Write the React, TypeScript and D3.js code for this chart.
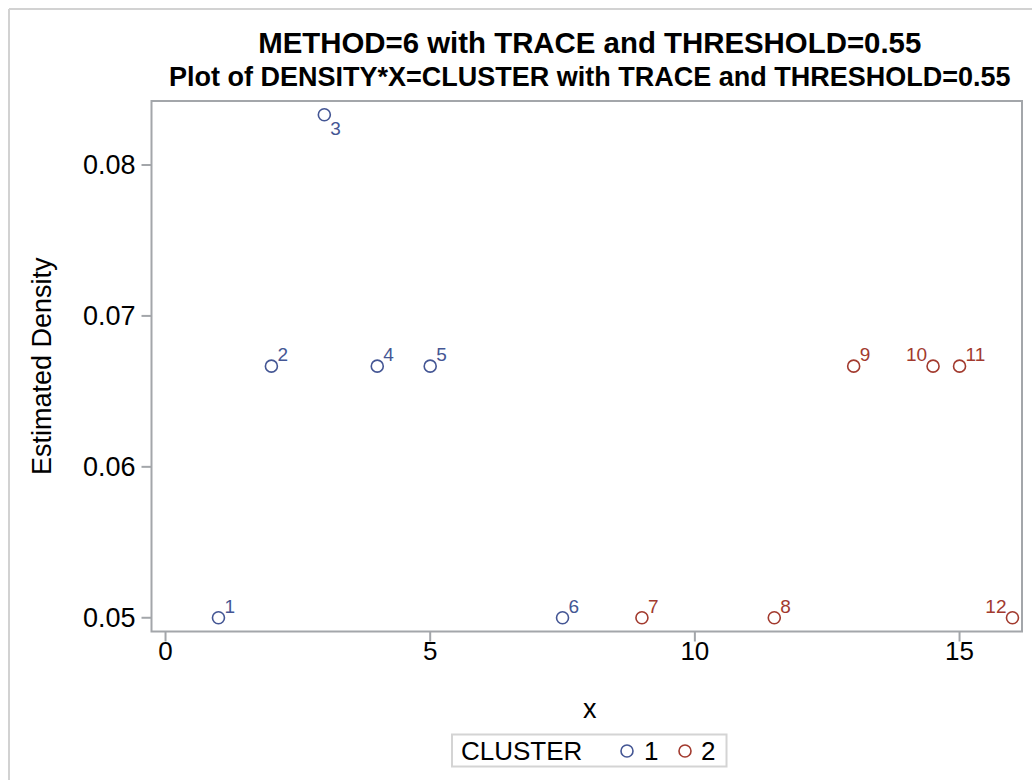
import * as d3 from "d3";

const pointIds = ["1", "2", "3", "4", "5", "6", "7", "8", "9", "10", "11", "12"];
const xValues = [1, 2, 3, 4, 5, 7.5, 9, 11.5, 13, 14.5, 15, 16];
const densityValues = [0.05, 0.06667, 0.08333, 0.06667, 0.06667, 0.05, 0.05, 0.05, 0.06667, 0.06667, 0.06667, 0.05];
const clusterOf = [1, 1, 1, 1, 1, 1, 2, 2, 2, 2, 2, 2];
// where the id label sits relative to its marker
const labelSide = ["ne", "ne", "se", "ne", "ne", "ne", "ne", "ne", "ne", "nw", "ne", "nw"];

const xTicks = [0, 5, 10, 15];
const yTicks = [0.05, 0.06, 0.07, 0.08];
const clusters = [1, 2];

const TITLE = "METHOD=6 with TRACE and THRESHOLD=0.55";
const SUBTITLE = "Plot of DENSITY*X=CLUSTER with TRACE and THRESHOLD=0.55";

const COLORS: Record<number, string> = { 1: "#445694", 2: "#A23A2E" };
const FONT = "'Liberation Sans', Arial, sans-serif";
const AXIS = "#a3a6aa";

export default function App() {
  const W = 1032;
  const H = 780;
  const m = { left: 151.5, right: 1022, top: 101, bottom: 631.5 };

  const x = d3.scaleLinear().domain([-0.265, 16.18]).range([m.left, m.right]);
  const y = d3.scaleLinear().domain([0.04909, 0.08424]).range([m.bottom, m.top]);
  const fmtY = d3.format(".2f");

  const cx = (m.left + m.right) / 2;

  return (
    <svg
      width={W}
      height={H}
      style={{ position: "absolute", left: 0, top: 0, fontFamily: FONT }}
    >
      <rect x={0} y={0} width={W} height={H} fill="white" />
      {/* outer graph border (right/bottom fall outside the page) */}
      <line x1={9} y1={9} x2={W} y2={9} stroke="#d2d2d2" strokeWidth={2} />
      <line x1={9} y1={9} x2={9} y2={H} stroke="#d2d2d2" strokeWidth={2} />

      <text x={cx + 3} y={53} textAnchor="middle" fontSize={29.4} fontWeight="bold" fill="#000">
        {TITLE}
      </text>
      <text x={cx + 3} y={86} textAnchor="middle" fontSize={27} fontWeight="bold" fill="#000">
        {SUBTITLE}
      </text>

      {/* frame */}
      <rect
        x={m.left}
        y={m.top}
        width={m.right - m.left}
        height={m.bottom - m.top}
        fill="none"
        stroke={AXIS}
        strokeWidth={2}
      />

      {/* x axis */}
      {xTicks.map((t) => (
        <g key={t}>
          <line x1={x(t)} x2={x(t)} y1={m.bottom} y2={m.bottom + 10} stroke={AXIS} strokeWidth={2} />
          <text x={x(t)} y={m.bottom + 28} textAnchor="middle" fontSize={26} fill="#000">
            {t}
          </text>
        </g>
      ))}
      <text x={cx + 3} y={718} textAnchor="middle" fontSize={27} fill="#000">
        x
      </text>

      {/* y axis */}
      {yTicks.map((t) => (
        <g key={t}>
          <line x1={m.left - 10} x2={m.left} y1={y(t)} y2={y(t)} stroke={AXIS} strokeWidth={2} />
          <text x={m.left - 16} y={y(t)} dy="0.35em" textAnchor="end" fontSize={27} fill="#000">
            {fmtY(t)}
          </text>
        </g>
      ))}
      <text
        transform={`translate(51,${(m.top + m.bottom) / 2}) rotate(-90)`}
        textAnchor="middle"
        fontSize={27}
        fill="#000"
      >
        Estimated Density
      </text>

      {/* points */}
      {pointIds.map((id, i) => {
        const px = x(xValues[i]);
        const py = y(densityValues[i]);
        const c = COLORS[clusterOf[i]];
        const side = labelSide[i];
        const lx = side === "nw" ? px - 6 : px + 6;
        const ly = side === "se" ? py + 20 : py - 5;
        return (
          <g key={id}>
            <circle cx={px} cy={py} r={6} fill="none" stroke={c} strokeWidth={1.6} />
            <text x={lx} y={ly} textAnchor={side === "nw" ? "end" : "start"} fontSize={19} fill={c}>
              {id}
            </text>
          </g>
        );
      })}

      {/* legend */}
      <rect x={452} y={734.5} width={274.5} height={32} fill="white" stroke="#d4d4d4" strokeWidth={2} />
      <text x={461} y={760} fontSize={26} fill="#000">
        CLUSTER
      </text>
      {clusters.map((k, i) => (
        <g key={k}>
          <circle cx={627 + i * 58} cy={751} r={6} fill="none" stroke={COLORS[k]} strokeWidth={1.6} />
          <text x={644 + i * 57} y={760} fontSize={26} fill="#000">
            {k}
          </text>
        </g>
      ))}
    </svg>
  );
}
